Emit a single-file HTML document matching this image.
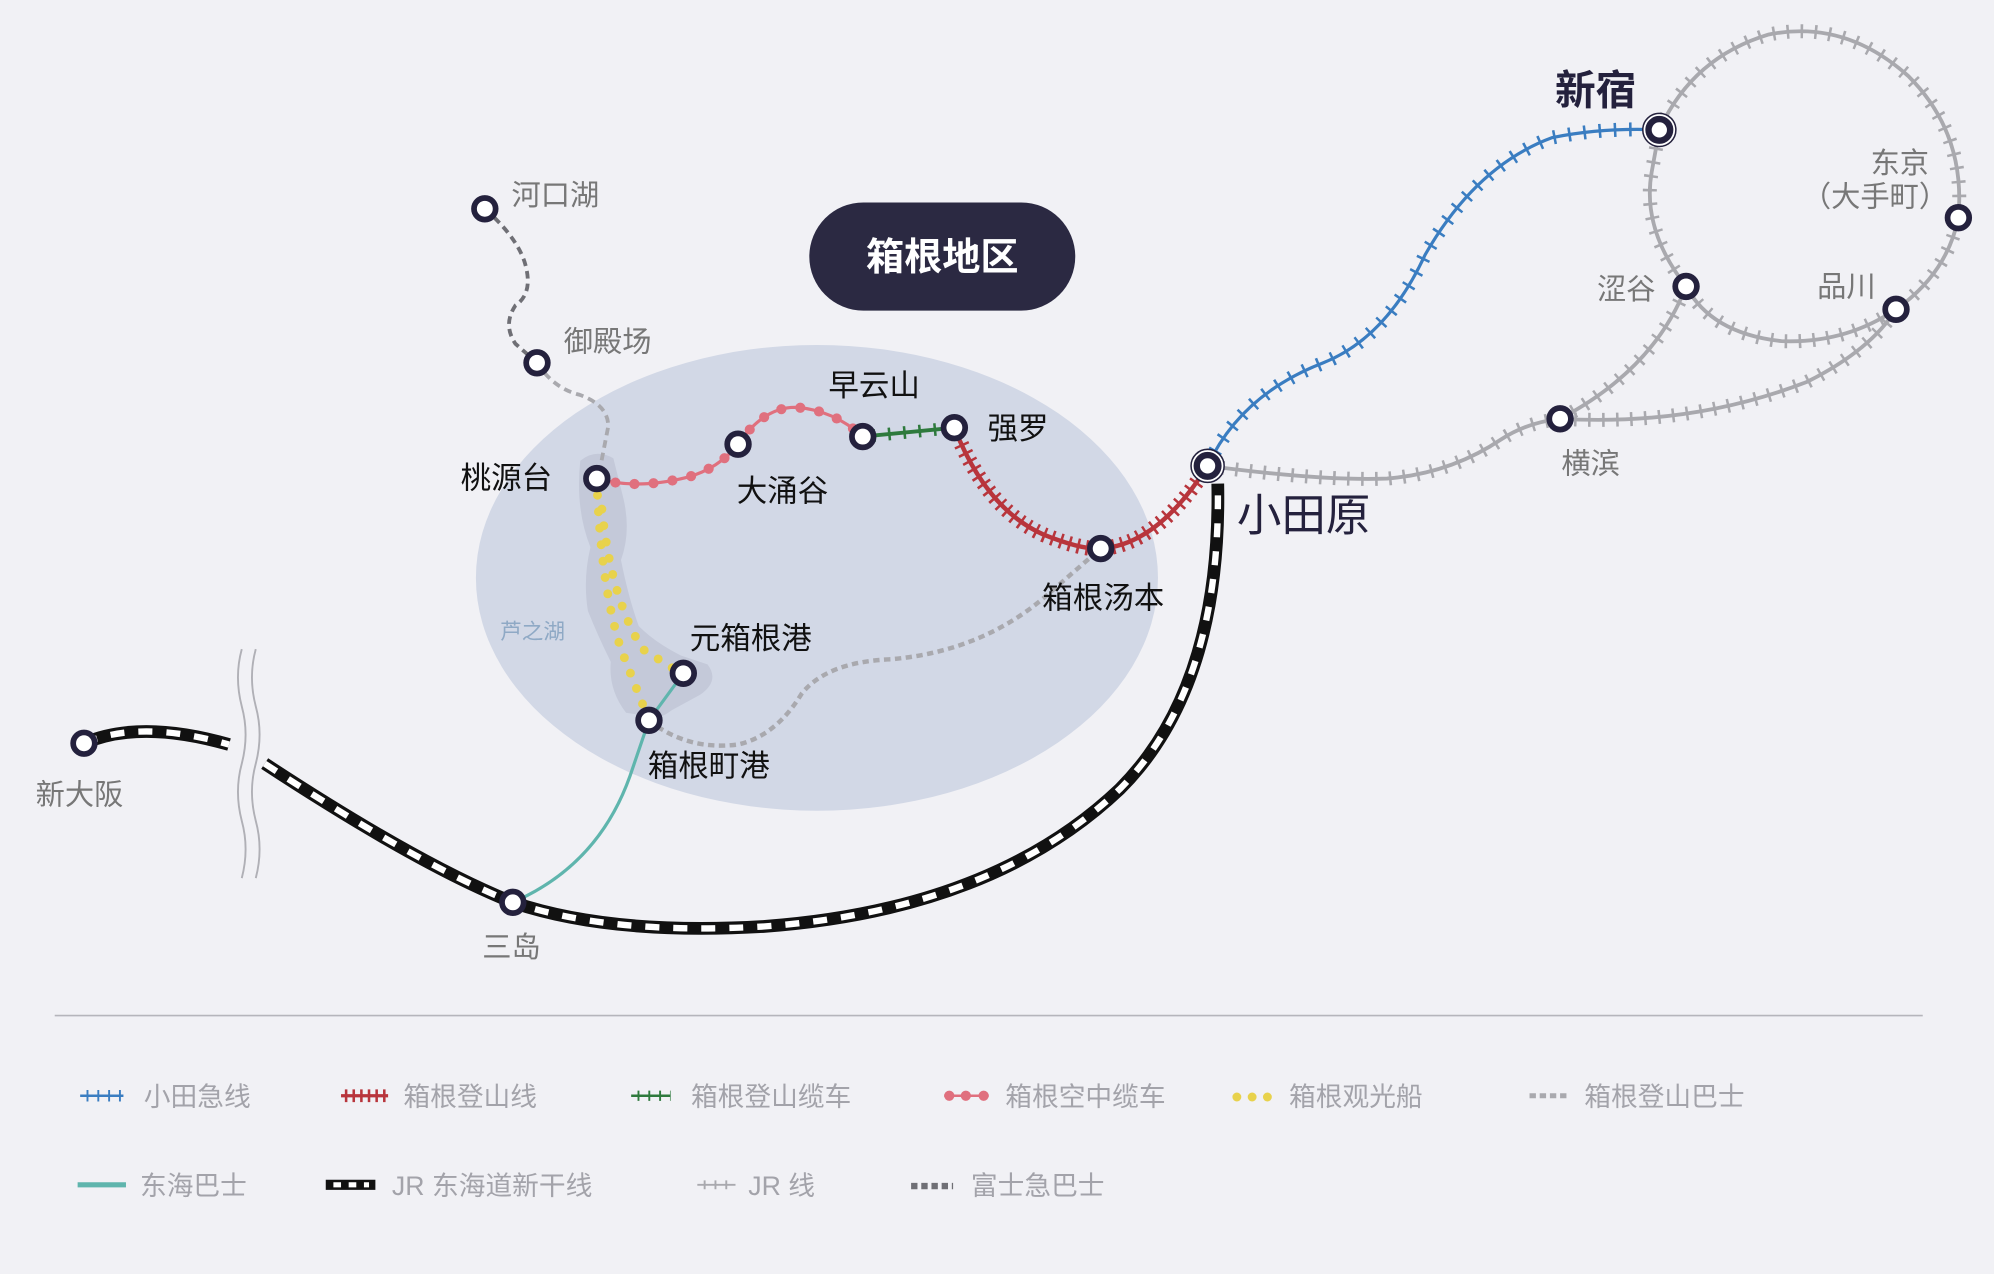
<!DOCTYPE html>
<html><head><meta charset="utf-8"><style>
html,body{margin:0;padding:0;background:#f1f1f5;}
svg{display:block}
text{font-family:"Liberation Sans","Noto Sans CJK SC",sans-serif;}
</style></head><body>
<svg width="1994" height="1274" viewBox="0 0 1567 1001" xmlns="http://www.w3.org/2000/svg">
<rect width="1567" height="1001" fill="#f1f1f5"/>
<ellipse cx="642" cy="454" rx="268" ry="183" fill="#d2d8e6"/>
<path d="M456,362 Q468,352 482,360 L490,392 Q496,418 488,440 Q494,470 502,492 Q515,505 535,515 L556,522 Q566,535 550,546 L528,558 Q515,568 505,562 L492,560 Q478,542 480,520 Q470,500 462,480 Q458,455 464,430 Q452,400 456,362Z" fill="#c4c9d9"/>
<!-- Fuji bus -->
<path d="M381,164 Q405,185 412,205 Q420,230 405,240 Q395,255 405,270 L422,285" fill="none" stroke="#6f6f75" stroke-width="3" stroke-dasharray="6 4"/>
<path d="M422,285 Q435,305 455,310 Q478,318 478,335 L470,376" fill="none" stroke="#a9a9ae" stroke-width="3" stroke-dasharray="6 4"/>
<!-- mountain bus -->
<path d="M510,566 Q540,590 580,585 Q610,578 630,545 Q650,520 700,518 Q770,512 820,470 L865,431" fill="none" stroke="#a9a9ae" stroke-width="3.5" stroke-dasharray="5 3.5"/>
<!-- yellow boat -->
<path d="M469,376 Q472,460 488,510 L510,566" fill="none" stroke="#e8d24c" stroke-width="7" stroke-linecap="round" stroke-dasharray="0 13"/>
<path d="M473,400 Q480,470 505,510 L535,529" fill="none" stroke="#e8d24c" stroke-width="7" stroke-linecap="round" stroke-dasharray="0 13"/>
<!-- teal -->
<path d="M403,709 Q470,680 495,610 L510,566 L537,529" fill="none" stroke="#5fb5ad" stroke-width="2.5"/>
<!-- ropeway -->
<path d="M469,376 Q500,385 540,375 Q565,368 580,349 Q600,320 625,320 Q655,322 678,343" fill="none" stroke="#e0707e" stroke-width="2.5"/>
<path d="M469,376 Q500,385 540,375 Q565,368 580,349 Q600,320 625,320 Q655,322 678,343" fill="none" stroke="#e0707e" stroke-width="8" stroke-linecap="round" stroke-dasharray="0 15"/>
<!-- cable -->
<path d="M678,343 L750,336" stroke="#2e7a3d" stroke-width="3"/>
<path d="M678,343 L750,336" stroke="#2e7a3d" stroke-width="10" stroke-dasharray="2 10" stroke-dashoffset="-8"/>
<!-- tozan -->
<path d="M750,336 Q775,400 820,420 Q850,432 865,431 Q910,428 949,366" fill="none" stroke="#b8353c" stroke-width="3.5"/>
<path d="M750,336 Q775,400 820,420 Q850,432 865,431 Q910,428 949,366" fill="none" stroke="#b8353c" stroke-width="12" stroke-dasharray="2 5"/>
<!-- odakyu -->
<path d="M949,366 Q975,310 1040,285 Q1090,265 1120,200 Q1160,130 1220,108 Q1260,100 1304,102" fill="none" stroke="#3a7dc1" stroke-width="2.5"/>
<path d="M949,366 Q975,310 1040,285 Q1090,265 1120,200 Q1160,130 1220,108 Q1260,100 1304,102" fill="none" stroke="#3a7dc1" stroke-width="11" stroke-dasharray="2 10"/>
<!-- JR -->
<g fill="none" stroke="#a9a9ae">
<path d="M949,366 Q1040,378 1090,376 Q1140,372 1180,345 Q1200,332 1226,329" stroke-width="3"/>
<path d="M1226,329 Q1300,290 1325,225" stroke-width="3"/>
<path d="M1226,329 Q1330,335 1420,300 Q1470,275 1490,243" stroke-width="3"/>
<path d="M1304,102 Q1330,45 1390,27 Q1450,15 1500,60 Q1545,105 1539,171 Q1530,215 1490,243 Q1450,270 1400,268 Q1345,262 1325,225 Q1290,180 1298,135 L1304,102" stroke-width="3"/>
<g stroke-width="11" stroke-dasharray="2 9">
<path d="M949,366 Q1040,378 1090,376 Q1140,372 1180,345 Q1200,332 1226,329"/>
<path d="M1226,329 Q1300,290 1325,225"/>
<path d="M1226,329 Q1330,335 1420,300 Q1470,275 1490,243"/>
<path d="M1304,102 Q1330,45 1390,27 Q1450,15 1500,60 Q1545,105 1539,171 Q1530,215 1490,243 Q1450,270 1400,268 Q1345,262 1325,225 Q1290,180 1298,135 L1304,102"/>
</g></g>
<!-- shinkansen -->
<g fill="none">
<path d="M66,584 Q110,565 180,585" stroke="#111" stroke-width="10"/>
<path d="M66,584 Q110,565 180,585" stroke="#fff" stroke-width="5" stroke-dasharray="11 11"/>
<path d="M208,600 Q330,680 403,709 Q480,735 600,728 Q780,715 880,620 Q960,540 957,380" stroke="#111" stroke-width="10"/>
<path d="M208,600 Q330,680 403,709 Q480,735 600,728 Q780,715 880,620 Q960,540 957,380" stroke="#fff" stroke-width="5" stroke-dasharray="11 11"/>
</g>
<!-- break -->
<path d="M190,510 q-6,22 0,45 q6,22 0,45 q-6,22 0,45 q6,22 0,45" fill="none" stroke="#b0b0b6" stroke-width="1.5"/>
<path d="M201,510 q-6,22 0,45 q6,22 0,45 q-6,22 0,45 q6,22 0,45" fill="none" stroke="#b0b0b6" stroke-width="1.5"/>
<!-- stations -->
<g fill="#fff" stroke="#24213d" stroke-width="4.5">
<circle cx="381" cy="164" r="8.5"/><circle cx="422" cy="285" r="8.5"/><circle cx="469" cy="376" r="8.5"/>
<circle cx="580" cy="349" r="8.5"/><circle cx="678" cy="343" r="8.5"/><circle cx="750" cy="336" r="8.5"/>
<circle cx="865" cy="431" r="8.5"/><circle cx="537" cy="529" r="8.5"/><circle cx="510" cy="566" r="8.5"/>
<circle cx="403" cy="709" r="8.5"/><circle cx="66" cy="584" r="8.5"/><circle cx="1539" cy="171" r="8.5"/>
<circle cx="1325" cy="225" r="8.5"/><circle cx="1490" cy="243" r="8.5"/><circle cx="1226" cy="329" r="8.5"/>
</g>
<g><circle cx="949" cy="366" r="13" fill="#fff" stroke="#24213d" stroke-width="1.2"/><circle cx="949" cy="366" r="8.5" fill="#fff" stroke="#24213d" stroke-width="5"/>
<circle cx="1304" cy="102" r="13" fill="#fff" stroke="#24213d" stroke-width="1.2"/><circle cx="1304" cy="102" r="8.5" fill="#fff" stroke="#24213d" stroke-width="5"/></g>
<!-- title pill -->
<rect x="636" y="159" width="209" height="85" rx="42.5" fill="#2b2942"/>
<text x="740.5" y="212" font-size="30" font-weight="bold" fill="#fff" text-anchor="middle">箱根地区</text>
<!-- labels -->
<g font-size="23" fill="#777">
<text x="402" y="161">河口湖</text><text x="443" y="276">御殿场</text>
<text x="28" y="632">新大阪</text><text x="379" y="752">三岛</text>
<text x="1470" y="136">东京</text><text x="1416" y="162">（大手町）</text>
<text x="1255" y="235">涩谷</text><text x="1428" y="233">品川</text><text x="1227" y="372">横滨</text>
</g>
<g font-size="24" fill="#111">
<text x="651" y="311">早云山</text><text x="776" y="345">强罗</text><text x="362" y="384">桃源台</text>
<text x="579" y="394">大涌谷</text><text x="819" y="478">箱根汤本</text><text x="542" y="510">元箱根港</text>
<text x="509" y="610">箱根町港</text>
</g>
<text x="393" y="502" font-size="17" fill="#8fa9c5">芦之湖</text>
<text x="972" y="417" font-size="35" fill="#24213d">小田原</text>
<text x="1222" y="82" font-size="32" font-weight="bold" fill="#24213d">新宿</text>
<!-- divider -->
<line x1="43" y1="798" x2="1511" y2="798" stroke="#b5b5bb" stroke-width="1.2"/>
<!-- legend -->
<g font-size="21" fill="#a3a3aa">
<path d="M63,861 H97" stroke="#3a7dc1" stroke-width="2"/><path d="M63,861 H97" stroke="#3a7dc1" stroke-width="9" stroke-dasharray="1.5 7" stroke-dashoffset="-5"/>
<text x="113" y="869">小田急线</text>
<path d="M268,861 H305" stroke="#b8353c" stroke-width="2.5"/><path d="M268,861 H305" stroke="#b8353c" stroke-width="10" stroke-dasharray="2 4" stroke-dashoffset="-3"/>
<text x="317" y="869">箱根登山线</text>
<path d="M496,861 H527" stroke="#2e7a3d" stroke-width="2"/><path d="M496,861 H527" stroke="#2e7a3d" stroke-width="8" stroke-dasharray="1.5 7" stroke-dashoffset="-5"/>
<text x="543" y="869">箱根登山缆车</text>
<path d="M742,861 H777" stroke="#e0707e" stroke-width="2"/><circle cx="746" cy="861" r="4" fill="#e0707e"/><circle cx="759" cy="861" r="4" fill="#e0707e"/><circle cx="773" cy="861" r="4" fill="#e0707e"/>
<text x="790" y="869">箱根空中缆车</text>
<circle cx="972" cy="862" r="3.5" fill="#e8d24c"/><circle cx="984" cy="862" r="3.5" fill="#e8d24c"/><circle cx="996" cy="862" r="3.5" fill="#e8d24c"/>
<text x="1013" y="869">箱根观光船</text>
<path d="M1202,861 H1233" stroke="#a9a9ae" stroke-width="4" stroke-dasharray="5 3"/>
<text x="1245" y="869">箱根登山巴士</text>
<path d="M61,931 H99" stroke="#5fb5ad" stroke-width="4"/>
<text x="110" y="939">东海巴士</text>
<path d="M256,931 H295" stroke="#111" stroke-width="8"/><path d="M262,931 H290" stroke="#fff" stroke-width="4" stroke-dasharray="6 6"/>
<text x="308" y="939">JR 东海道新干线</text>
<path d="M548,931 H578" stroke="#a9a9ae" stroke-width="1.5"/><path d="M548,931 H578" stroke="#a9a9ae" stroke-width="7" stroke-dasharray="1.5 7" stroke-dashoffset="-5"/>
<text x="588" y="939">JR 线</text>
<path d="M716,932 H749" stroke="#6f6f75" stroke-width="5" stroke-dasharray="5 3"/>
<text x="763" y="939">富士急巴士</text>
</g>
</svg>
</body></html>
